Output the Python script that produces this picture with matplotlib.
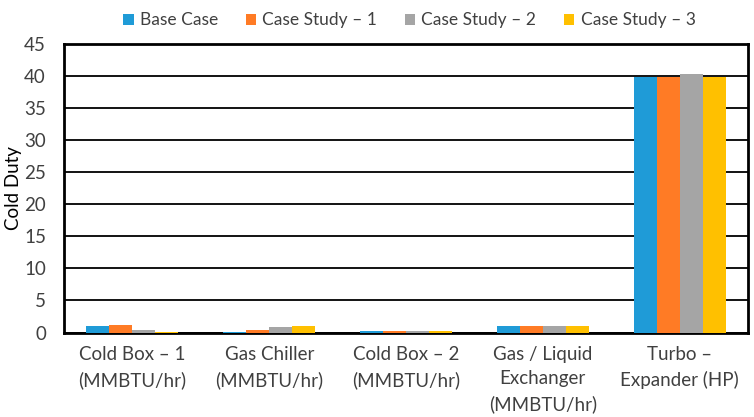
import numpy as np
import matplotlib
matplotlib.use("Agg")
import matplotlib.pyplot as plt

plt.rcParams['font.family'] = ['Lato', 'DejaVu Sans']

categories = ['Cold Box – 1\n(MMBTU/hr)', 'Gas Chiller\n(MMBTU/hr)', 'Cold Box – 2\n(MMBTU/hr)',
              'Gas / Liquid\nExchanger\n(MMBTU/hr)', 'Turbo –\nExpander (HP)']
series_names = ['Base Case', 'Case Study – 1', 'Case Study – 2', 'Case Study – 3']
base_case = [1.0, 0.1, 0.3, 1.0, 39.9]
case_study_1 = [1.2, 0.45, 0.25, 1.0, 39.9]
case_study_2 = [0.4, 0.8, 0.25, 1.0, 40.3]
case_study_3 = [0.1, 1.05, 0.25, 1.0, 39.9]
yticks = list(range(0, 50, 5))

colors = ['#1F9BD7', '#FF7B25', '#A5A5A5', '#FFC000']
text_col = '#404040'

fig = plt.figure(figsize=(7.54, 4.17), dpi=100)
ax = fig.add_axes([64 / 754, 1 - 332.5 / 417, 684 / 754, 288.5 / 417])

x = np.arange(len(categories))
w = 0.168
for i, (vals, name) in enumerate(zip([base_case, case_study_1, case_study_2, case_study_3], series_names)):
    ax.bar(x + (i - 1.5) * w, vals, width=w, color=colors[i], label=name, zorder=3)

ax.set_xlim(-0.5, len(categories) - 0.5)
ax.set_ylim(0, 45)
ax.set_yticks(yticks)
ax.yaxis.grid(True, color='black', linewidth=1.3, zorder=0)
ax.set_axisbelow(True)
for sp in ax.spines.values():
    sp.set_linewidth(2)
    sp.set_color('black')
ax.tick_params(axis='y', length=0, labelsize=13.5, colors=text_col, pad=13)
ax.tick_params(axis='x', length=0, labelsize=13.5, colors=text_col, pad=10)
ax.set_xticks(x)
ax.set_xticklabels(categories, fontsize=13.5, color=text_col, linespacing=1.5, va='top')
ax.set_ylabel('Cold Duty', fontsize=13.5, color='black')
ax.yaxis.set_label_coords(-42 / 684, 0.5)

ax.legend(loc='lower center', bbox_to_anchor=(0.505, 1.0), ncol=4, frameon=False,
          fontsize=12.5, handlelength=0.6, handleheight=0.6, handletextpad=0.35,
          columnspacing=1.6, labelcolor=text_col)

fig.savefig('out.png', dpi=100)
